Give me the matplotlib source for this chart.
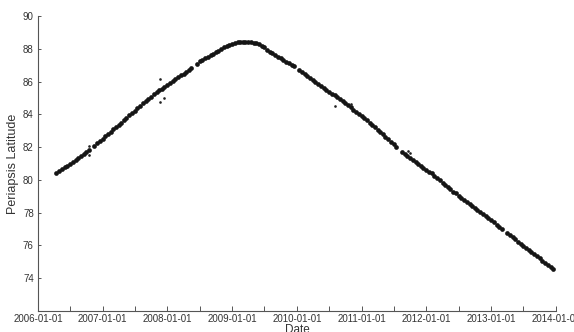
import numpy as np
import pandas as pd
import matplotlib
matplotlib.use("Agg")
import matplotlib.pyplot as plt
import matplotlib.dates as mdates

# Periapsis latitude, sampled on the 1st and 15th of each month (NaN = data gap)
lat_2006 = [80.45, 80.55, 80.65, 80.76, 80.86, 80.97, 81.10, 81.22, 81.33, 81.44,
            81.55, 81.68, 81.82, np.nan, 82.08, 82.23, 82.38]  # from 2006-04-15
lat_2007 = [82.52, 82.66, 82.80, 82.94, 83.08, 83.22, 83.36, 83.50, 83.64, 83.79,
            83.93, 84.08, 84.23, 84.38, 84.53, 84.67, 84.80, 84.94, 85.08, 85.22,
            85.35, 85.46, 85.57, 85.68]
lat_2008 = [85.79, 85.90, 86.01, 86.13, 86.25, 86.37, 86.49, 86.61, 86.73, 86.85,
            np.nan, 87.10, 87.23, 87.33, 87.42, 87.52, 87.61, 87.70, 87.79, 87.89,
            87.99, 88.09, 88.17, 88.24]
lat_2009 = [88.31, 88.37, 88.39, 88.40, 88.40, 88.40, 88.39, 88.40, 88.38, 88.35,
            88.30, 88.20, 88.08, 87.95, 87.83, 87.72, 87.62, 87.52, 87.42, 87.32,
            87.22, 87.12, 87.02, 86.92]
lat_2010 = [np.nan, 86.68, 86.57, 86.45, 86.33, 86.21, 86.09, 85.97, 85.86, 85.74,
            85.62, 85.50, 85.38, 85.27, 85.16, 85.05, 84.93, 84.80, 84.68, 84.55,
            84.42, 84.29, 84.16, 84.03]
lat_2011 = [83.91, 83.77, 83.63, 83.49, 83.35, 83.21, 83.07, 82.92, 82.78, 82.63,
            82.49, 82.34, 82.18, 82.01, np.nan, 81.70, 81.58, 81.46, 81.35, 81.23,
            81.11, 80.99, 80.87, 80.75]
lat_2012 = [80.63, 80.51, 80.39, 80.26, 80.12, 79.98, 79.84, 79.71, 79.57, 79.43,
            79.29, 79.17, 79.04, 78.92, 78.80, 78.67, 78.55, 78.42, 78.30, 78.17,
            78.04, 77.91, 77.78, 77.66]
lat_2013 = [77.53, 77.40, 77.27, 77.14, 77.01, np.nan, 76.76, 76.63, 76.50, 76.37,
            76.24, 76.11, 75.98, 75.85, 75.72, 75.59, 75.46, 75.33, 75.21, 75.08,
            74.95, 74.82, 74.69, 74.56]

# Isolated points off the main track
outlier_dates = ["2006-10-14", "2006-10-14", "2007-11-19", "2007-11-19", "2007-12-13",
                 "2010-08-02", "2010-11-04", "2011-09-18", "2011-09-28"]
outlier_lats = [82.05, 81.5, 86.13, 84.76, 84.97, 84.5, 84.66, 81.75, 81.65]

yticks = [74, 76, 78, 80, 82, 84, 86, 88, 90]
xlim = ("2006-01-01", "2014-01-01")

lats = np.array(lat_2006 + lat_2007 + lat_2008 + lat_2009 + lat_2010 +
                lat_2011 + lat_2012 + lat_2013, dtype=float)
dates = pd.date_range("2006-04-15", "2013-12-15", freq="SMS")
n = min(len(dates), len(lats))
dates, lats = dates[:n], lats[:n]
mask = ~np.isnan(lats)

plt.rcParams["font.family"] = ["Liberation Sans", "DejaVu Sans"]
fig = plt.figure(figsize=(5.74, 3.32), dpi=100)
ax = fig.add_axes([38 / 574, 1 - 311 / 332, (556 - 38) / 574, (311 - 16) / 332])

ax.plot(dates[mask], lats[mask], "o", color="#151515", markersize=3.4,
        markeredgewidth=0, linestyle="none")
ax.plot(pd.to_datetime(outlier_dates), outlier_lats, "o", color="#222222",
        markersize=1.9, markeredgewidth=0, linestyle="none")

ax.set_xlim(pd.Timestamp(xlim[0]), pd.Timestamp(xlim[1]))
ax.set_ylim(72, 90)
ax.set_yticks(yticks)
ax.xaxis.set_major_locator(mdates.YearLocator())
ax.xaxis.set_major_formatter(mdates.DateFormatter("%Y-%m-%d"))
ax.xaxis.set_minor_locator(mdates.MonthLocator(bymonth=7))

for s in ["top", "right"]:
    ax.spines[s].set_visible(False)
for s in ["left", "bottom"]:
    ax.spines[s].set_color("#555555")
    ax.spines[s].set_linewidth(0.8)

ax.tick_params(axis="x", which="both", direction="in", length=3.8, width=0.7,
               color="#555555", labelsize=7, labelcolor="#333333", pad=2.5)
ax.tick_params(axis="y", which="both", direction="in", length=2.5, width=0.7,
               color="#555555", labelsize=7, labelcolor="#333333", pad=3)

ax.set_xlabel("Date", fontsize=8.5, color="#333333", labelpad=0)
ax.set_ylabel("Periapsis Latitude", fontsize=9, color="#333333", labelpad=2.5)

fig.savefig("out.png", dpi=100)
